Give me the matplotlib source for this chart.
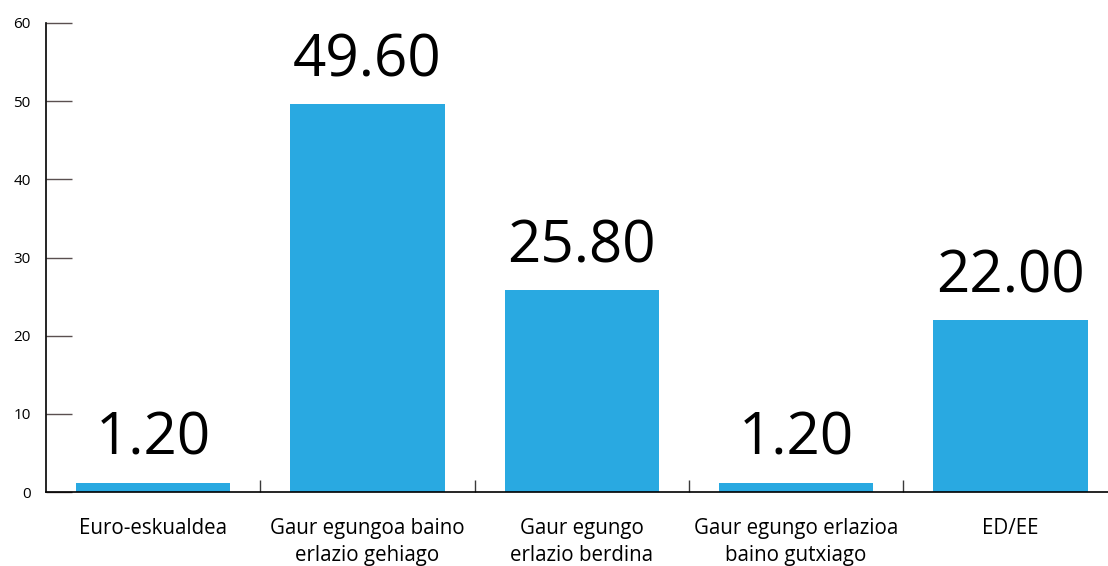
import numpy as np
from matplotlib import pyplot as plt

categories = ['Euro-eskualdea', 'Gaur egungoa baino\nerlazio gehiago', 'Gaur egungo\nerlazio berdina',
              'Gaur egungo erlazioa\nbaino gutxiago', 'ED/EE']
values = [1.20, 49.60, 25.80, 1.20, 22.00]
yticks = [0, 10, 20, 30, 40, 50, 60]

plt.rcParams['font.family'] = ['Open Sans', 'DejaVu Sans']

fig = plt.figure(figsize=(11.08, 5.66), dpi=100)
ax = fig.add_axes([46 / 1108, 74 / 566, 1 - 46 / 1108, 469 / 566])

x = np.arange(len(categories))
bars = ax.bar(x, values, width=0.72, color='#29a9e1')

for xi, v in zip(x, values):
    ax.annotate('%.2f' % v, (xi, v), xytext=(0, 10), textcoords='offset points',
                ha='center', va='bottom', fontsize=42, color='black')

ax.set_xlim(-0.5, 4.455)
ax.set_ylim(0, 60)
ax.set_yticks(yticks)
ax.set_xticks(x)
ax.set_xticklabels(categories, fontsize=14.8, linespacing=1.35)
ax.set_xticks(x[:-1] + 0.5, minor=True)

ax.tick_params(axis='y', direction='in', length=19, width=1, color='#5a5050',
               labelsize=11, pad=11)
ax.tick_params(axis='x', which='major', length=0, pad=19)
ax.tick_params(axis='x', which='minor', direction='in', length=8.5, width=1, color='#3a3a3a')

for s in ['top', 'right']:
    ax.spines[s].set_visible(False)
for s in ['left', 'bottom']:
    ax.spines[s].set_linewidth(1.2)
    ax.spines[s].set_color('black')

fig.savefig('out.png', dpi=100)
